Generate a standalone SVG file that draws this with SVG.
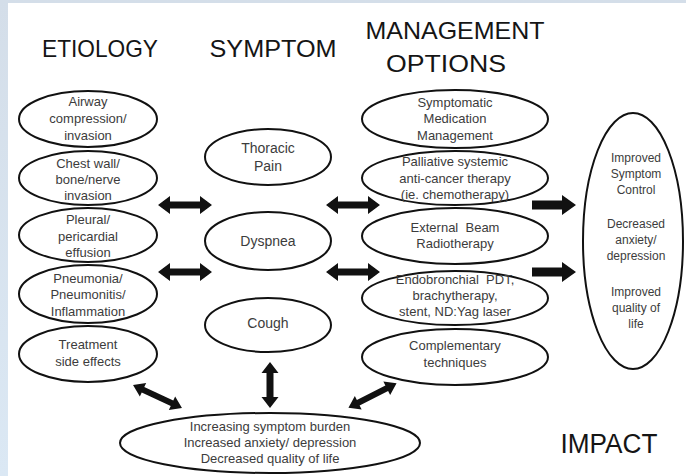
<svg xmlns="http://www.w3.org/2000/svg" width="686" height="476" viewBox="0 0 686 476">
<style>
.node ellipse{fill:none;stroke:#111;stroke-width:2}
.t{font-family:"Liberation Sans",Arial,sans-serif;font-size:13px;fill:#3c3c3c;text-anchor:middle}
.s{font-size:14px}
.i{font-size:12px}
.pre{white-space:pre}
.h{font-family:"Liberation Sans",Arial,sans-serif;font-size:24px;fill:#151515;text-anchor:middle}
.arr{fill:#111}
</style>
<defs>
<linearGradient id="bg" x1="0" y1="0" x2="0" y2="1">
<stop offset="0" stop-color="#d4dee9"/>
<stop offset="1" stop-color="#dbe8f4"/>
</linearGradient>
<path id="dbl" d="M-27,0 L-15,-9 L-15,-3.5 L15,-3.5 L15,-9 L27,0 L15,9 L15,3.5 L-15,3.5 L-15,9 Z"/>
<path id="dbls" d="M-27,0 L-16,-7.5 L-16,-3 L16,-3 L16,-7.5 L27,0 L16,7.5 L16,3 L-16,3 L-16,7.5 Z"/>
<path id="dblv" d="M-23,0 L-12,-8.5 L-12,-3.5 L12,-3.5 L12,-8.5 L23,0 L12,8.5 L12,3.5 L-12,3.5 L-12,8.5 Z"/>
<path id="one" d="M0,-4.5 L30,-4.5 L30,-10 L44,0 L30,10 L30,4.5 L0,4.5 Z"/>
</defs>
<rect x="0" y="0" width="686" height="476" fill="url(#bg)"/>
<rect x="8" y="3" width="678" height="473" fill="#ffffff"/>

<g id="headers">
<text class="h" x="100" y="57" textLength="116" lengthAdjust="spacingAndGlyphs">ETIOLOGY</text>
<text class="h" x="273" y="57" textLength="127" lengthAdjust="spacingAndGlyphs">SYMPTOM</text>
<text class="h" x="455" y="39" textLength="179" lengthAdjust="spacingAndGlyphs">MANAGEMENT</text>
<text class="h" x="446" y="72" textLength="120" lengthAdjust="spacingAndGlyphs">OPTIONS</text>
<text class="h" x="609" y="453" style="font-size:27px" textLength="97" lengthAdjust="spacingAndGlyphs">IMPACT</text>
</g>

<g id="etio-airway" class="node"><ellipse cx="88" cy="119" rx="69" ry="28"/>
<text class="t" x="88" y="106">Airway</text><text class="t" x="88" y="123">compression/</text><text class="t" x="88" y="140">invasion</text></g>
<g id="etio-chest" class="node"><ellipse cx="88" cy="178" rx="69" ry="27"/>
<text class="t" x="88" y="168">Chest wall/</text><text class="t" x="88" y="184">bone/nerve</text><text class="t" x="88" y="200">invasion</text></g>
<g id="etio-pleural" class="node"><ellipse cx="88" cy="235" rx="69" ry="27"/>
<text class="t" x="88" y="224">Pleural/</text><text class="t" x="88" y="241">pericardial</text><text class="t" x="88" y="257">effusion</text></g>
<g id="etio-pneumonia" class="node"><ellipse cx="88" cy="294" rx="69" ry="29"/>
<text class="t" x="88" y="283">Pneumonia/</text><text class="t" x="88" y="299">Pneumonitis/</text><text class="t" x="88" y="316">Inflammation</text></g>
<g id="etio-treatment" class="node"><ellipse cx="88" cy="354" rx="69" ry="28"/>
<text class="t" x="88" y="349">Treatment</text><text class="t" x="88" y="366">side effects</text></g>

<g id="sym-pain" class="node"><ellipse cx="268" cy="157" rx="63" ry="28"/>
<text class="t s" x="268" y="153">Thoracic</text><text class="t s" x="268" y="171">Pain</text></g>
<g id="sym-dyspnea" class="node"><ellipse cx="268" cy="241" rx="63" ry="29"/>
<text class="t s" x="268" y="246">Dyspnea</text></g>
<g id="sym-cough" class="node"><ellipse cx="268" cy="325" rx="63" ry="27"/>
<text class="t s" x="268" y="328">Cough</text></g>

<g id="mgmt-medication" class="node"><ellipse cx="455" cy="119" rx="93" ry="29"/>
<text class="t" x="455" y="107">Symptomatic</text><text class="t" x="455" y="123">Medication</text><text class="t" x="455" y="140">Management</text></g>
<g id="mgmt-palliative" class="node"><ellipse cx="455" cy="178" rx="93" ry="27"/>
<text class="t" x="455" y="166">Palliative systemic</text><text class="t" x="455" y="183">anti-cancer therapy</text><text class="t" x="455" y="199">(ie. chemotherapy)</text></g>
<g id="mgmt-radiotherapy" class="node"><ellipse cx="455" cy="236" rx="93" ry="28"/>
<text class="t pre" x="455" y="232">External  Beam</text><text class="t" x="455" y="248">Radiotherapy</text></g>
<g id="mgmt-endobronchial" class="node"><ellipse cx="455" cy="298" rx="93" ry="27"/>
<text class="t pre" x="455" y="284">Endobronchial  PDT,</text><text class="t" x="455" y="300">brachytherapy,</text><text class="t" x="455" y="316">stent, ND:Yag laser</text></g>
<g id="mgmt-complementary" class="node"><ellipse cx="455" cy="357" rx="93" ry="28"/>
<text class="t" x="455" y="350">Complementary</text><text class="t" x="455" y="367">techniques</text></g>

<g id="impact" class="node"><ellipse cx="633" cy="241" rx="50" ry="128"/>
<text class="t i" x="636" y="162">Improved</text><text class="t i" x="636" y="178">Symptom</text><text class="t i" x="636" y="194">Control</text>
<text class="t i" x="636" y="228">Decreased</text><text class="t i" x="636" y="244">anxiety/</text><text class="t i" x="636" y="260">depression</text>
<text class="t i" x="636" y="296">Improved</text><text class="t i" x="636" y="312">quality of</text><text class="t i" x="636" y="328">life</text></g>

<g id="burden" class="node"><ellipse cx="270" cy="443" rx="150" ry="30"/>
<text class="t" x="270" y="431">Increasing symptom burden</text><text class="t" x="270" y="447">Increased anxiety/ depression</text><text class="t" x="270" y="463">Decreased quality of life</text></g>

<g id="connectors" class="arr">
<use href="#dbl" transform="translate(185,205)"/>
<use href="#dbl" transform="translate(185,272)"/>
<use href="#dbl" transform="translate(353,205)"/>
<use href="#dbl" transform="translate(353,272)"/>
<use href="#one" transform="translate(532,205)"/>
<use href="#one" transform="translate(532,272)"/>
<use href="#dbls" transform="translate(157.5,396.5) rotate(25)"/>
<use href="#dblv" transform="translate(270,385) rotate(90)"/>
<use href="#dbls" transform="translate(372.5,395.5) rotate(-27)"/>
</g>
</svg>
